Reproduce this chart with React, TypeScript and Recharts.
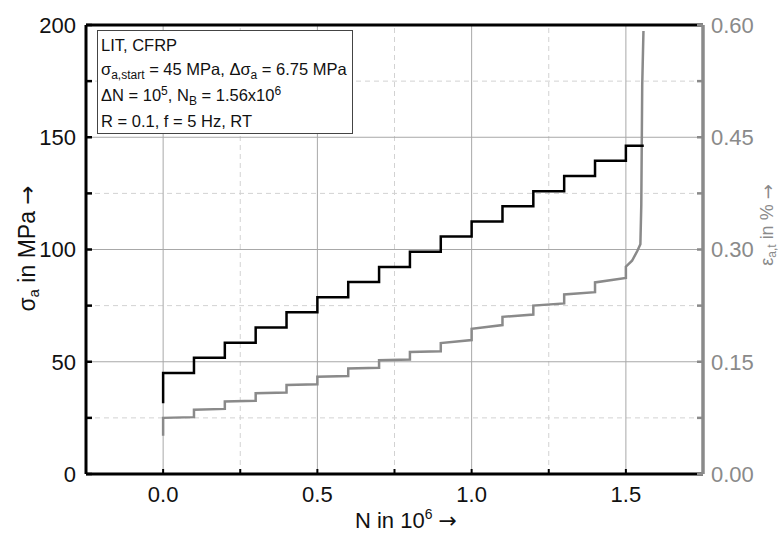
import React from 'react';
import { LineChart, Line, XAxis, YAxis, ReferenceLine } from 'recharts';

// load steps (N in 10^6) and stress amplitude per step (MPa)
const stepN = [0, 0.1, 0.2, 0.3, 0.4, 0.5, 0.6, 0.7, 0.8, 0.9, 1.0, 1.1, 1.2, 1.3, 1.4, 1.5];
const stressLevels = [45, 51.75, 58.5, 65.25, 72, 78.75, 85.5, 92.25, 99, 105.75, 112.5, 119.25, 126, 132.75, 139.5, 146.25];
const stressInitial = 31.5;
const failureN = 1.558;

// total strain amplitude (%) at the start and end of each step
const strainInitial = 0.051;
const strainStepStart = [0.075, 0.086, 0.097, 0.108, 0.119, 0.130, 0.141, 0.152, 0.163, 0.175, 0.194, 0.210, 0.225, 0.240, 0.256, 0.277];
const strainStepEnd = [0.076, 0.087, 0.098, 0.109, 0.120, 0.131, 0.142, 0.153, 0.164, 0.179, 0.199, 0.213, 0.228, 0.243, 0.262];
const failureCurveN = [1.52, 1.537, 1.547, 1.55, 1.553, 1.557];
const failureCurveStrain = [0.285, 0.298, 0.307, 0.36, 0.52, 0.592];

const xTicks = [0, 0.25, 0.5, 0.75, 1.0, 1.25, 1.5];
const yTicks = [0, 25, 50, 75, 100, 125, 150, 175, 200];
const y2Ticks = [0, 0.075, 0.15, 0.225, 0.3, 0.375, 0.45, 0.525, 0.6];
const gridMajorX = [0, 0.5, 1.0, 1.5];
const gridMinorX = [0.25, 0.75, 1.25];
const gridMajorY = [50, 100, 150];
const gridMinorY = [25, 75, 125, 175];

const stressData = [
  { n: 0, s: stressInitial },
  ...stepN.map((n, i) => ({ n, s: stressLevels[i] })),
  { n: failureN, s: stressLevels[stressLevels.length - 1] },
];

const strainData: { n: number; e: number }[] = [{ n: 0, e: strainInitial }];
stepN.forEach((n, i) => {
  strainData.push({ n, e: strainStepStart[i] });
  if (i < strainStepEnd.length) strainData.push({ n: stepN[i + 1], e: strainStepEnd[i] });
});
failureCurveN.forEach((n, i) => strainData.push({ n, e: failureCurveStrain[i] }));

const FONT = 'Arial, "Liberation Sans", sans-serif';
const ARROW_FONT = '"DejaVu Sans", sans-serif';
const GRAY = '#8a8a8a';

const LeftTitle = (props: any) => {
  const { x, y, height } = props.viewBox;
  const cx = x + 27;
  const cy = y + height / 2 - 1;
  return (
    <text x={cx} y={cy} transform={`rotate(-90 ${cx} ${cy})`} textAnchor="middle" dominantBaseline="central"
      fontFamily={FONT} fontSize={23} fill="#111">
      <tspan>σ</tspan><tspan dy={6} fontSize={15}>a</tspan><tspan dy={-6}> in MPa </tspan>
      <tspan fontFamily={ARROW_FONT}>→</tspan>
    </text>
  );
};

const RightTitle = (props: any) => {
  const { x, y } = props.viewBox;
  const cx = x + 64;
  const cy = y + 200;
  return (
    <text x={cx} y={cy} transform={`rotate(-90 ${cx} ${cy})`} textAnchor="middle" dominantBaseline="central"
      fontFamily={FONT} fontSize={18} fill={GRAY}>
      <tspan>ε</tspan><tspan dy={5} fontSize={12}>a,t</tspan><tspan dy={-5}> in % </tspan>
      <tspan fontFamily={ARROW_FONT}>→</tspan>
    </text>
  );
};

const BottomTitle = (props: any) => {
  const { x, y } = props.viewBox;
  return (
    <text x={x + 320} y={y + 54} textAnchor="middle" fontFamily={FONT} fontSize={22} fill="#111">
      <tspan>N in 10</tspan><tspan dy={-9} fontSize={14}>6</tspan><tspan dy={9}> </tspan>
      <tspan fontFamily={ARROW_FONT}>→</tspan>
    </text>
  );
};

const sub = { fontSize: 12, position: 'relative' as const, top: 4 };
const sup = { fontSize: 12, position: 'relative' as const, top: -6 };

export default function App() {
  return (
    <div style={{ position: 'absolute', left: 0, top: 0, width: 780, height: 533, background: '#fff' }}>
      <LineChart width={780} height={533} margin={{ top: 25, right: 0, bottom: 0, left: 0 }}>
        {gridMinorX.map((v) => (
          <ReferenceLine key={`mx${v}`} x={v} yAxisId="left" stroke="#d2d2d2" strokeDasharray="5 4" />
        ))}
        {gridMinorY.map((v) => (
          <ReferenceLine key={`my${v}`} y={v} yAxisId="left" stroke="#d2d2d2" strokeDasharray="5 4" />
        ))}
        {gridMajorX.map((v) => (
          <ReferenceLine key={`Mx${v}`} x={v} yAxisId="left" stroke="#a8a8a8" />
        ))}
        {gridMajorY.map((v) => (
          <ReferenceLine key={`My${v}`} y={v} yAxisId="left" stroke="#a8a8a8" />
        ))}
        <XAxis
          dataKey="n"
          type="number"
          domain={[-0.25, 1.75]}
          ticks={xTicks}
          allowDataOverflow
          height={59}
          tickSize={-5}
          tickMargin={17}
          tickFormatter={(v: number) => (Math.abs(v * 2 - Math.round(v * 2)) < 1e-6 ? v.toFixed(1) : '')}
          tick={{ fill: '#111', fontSize: 22, fontFamily: FONT }}
          axisLine={{ stroke: '#000', strokeWidth: 3 }}
          tickLine={{ stroke: '#000', strokeWidth: 2 }}
          label={<BottomTitle />}
        />
        <YAxis
          yAxisId="left"
          type="number"
          domain={[0, 200]}
          ticks={yTicks}
          width={86}
          tickSize={-6}
          tickMargin={16}
          tickFormatter={(v: number) => (v % 50 === 0 ? String(v) : '')}
          tick={{ fill: '#111', fontSize: 22, fontFamily: FONT }}
          axisLine={{ stroke: '#000', strokeWidth: 3 }}
          tickLine={{ stroke: '#000', strokeWidth: 2.5 }}
          label={<LeftTitle />}
        />
        <YAxis
          yAxisId="right"
          orientation="right"
          type="number"
          domain={[0, 0.6]}
          ticks={y2Ticks}
          width={77}
          tickSize={-6}
          tickMargin={14}
          tickFormatter={(v: number) => (Math.abs(v / 0.15 - Math.round(v / 0.15)) < 1e-6 ? v.toFixed(2) : '')}
          tick={{ fill: GRAY, fontSize: 22, fontFamily: FONT }}
          axisLine={{ stroke: GRAY, strokeWidth: 3.5 }}
          tickLine={{ stroke: GRAY, strokeWidth: 2.5 }}
          label={<RightTitle />}
        />
        <ReferenceLine y={200} yAxisId="left" stroke="#000" strokeWidth={3} />
        <Line
          data={strainData}
          yAxisId="right"
          dataKey="e"
          type="linear"
          stroke={GRAY}
          strokeWidth={2.5}
          dot={false}
          isAnimationActive={false}
        />
        <Line
          data={stressData}
          yAxisId="left"
          dataKey="s"
          type="stepAfter"
          stroke="#000"
          strokeWidth={2.5}
          dot={false}
          isAnimationActive={false}
        />
      </LineChart>
      <div
        style={{
          position: 'absolute', left: 97, top: 30, width: 256, height: 104,
          border: '1px solid #444', background: '#fff', fontFamily: FONT, fontSize: 16.5,
          lineHeight: '24px', color: '#111', paddingLeft: 3, paddingTop: 2, boxSizing: 'border-box',
          whiteSpace: 'nowrap',
        }}
      >
        <div>LIT, CFRP</div>
        <div>σ<span style={sub}>a,start</span> = 45 MPa, Δσ<span style={sub}>a</span> = 6.75 MPa</div>
        <div>ΔN = 10<span style={sup}>5</span>, N<span style={sub}>B</span> = 1.56x10<span style={sup}>6</span></div>
        <div>R = 0.1, f = 5 Hz, RT</div>
      </div>
    </div>
  );
}
